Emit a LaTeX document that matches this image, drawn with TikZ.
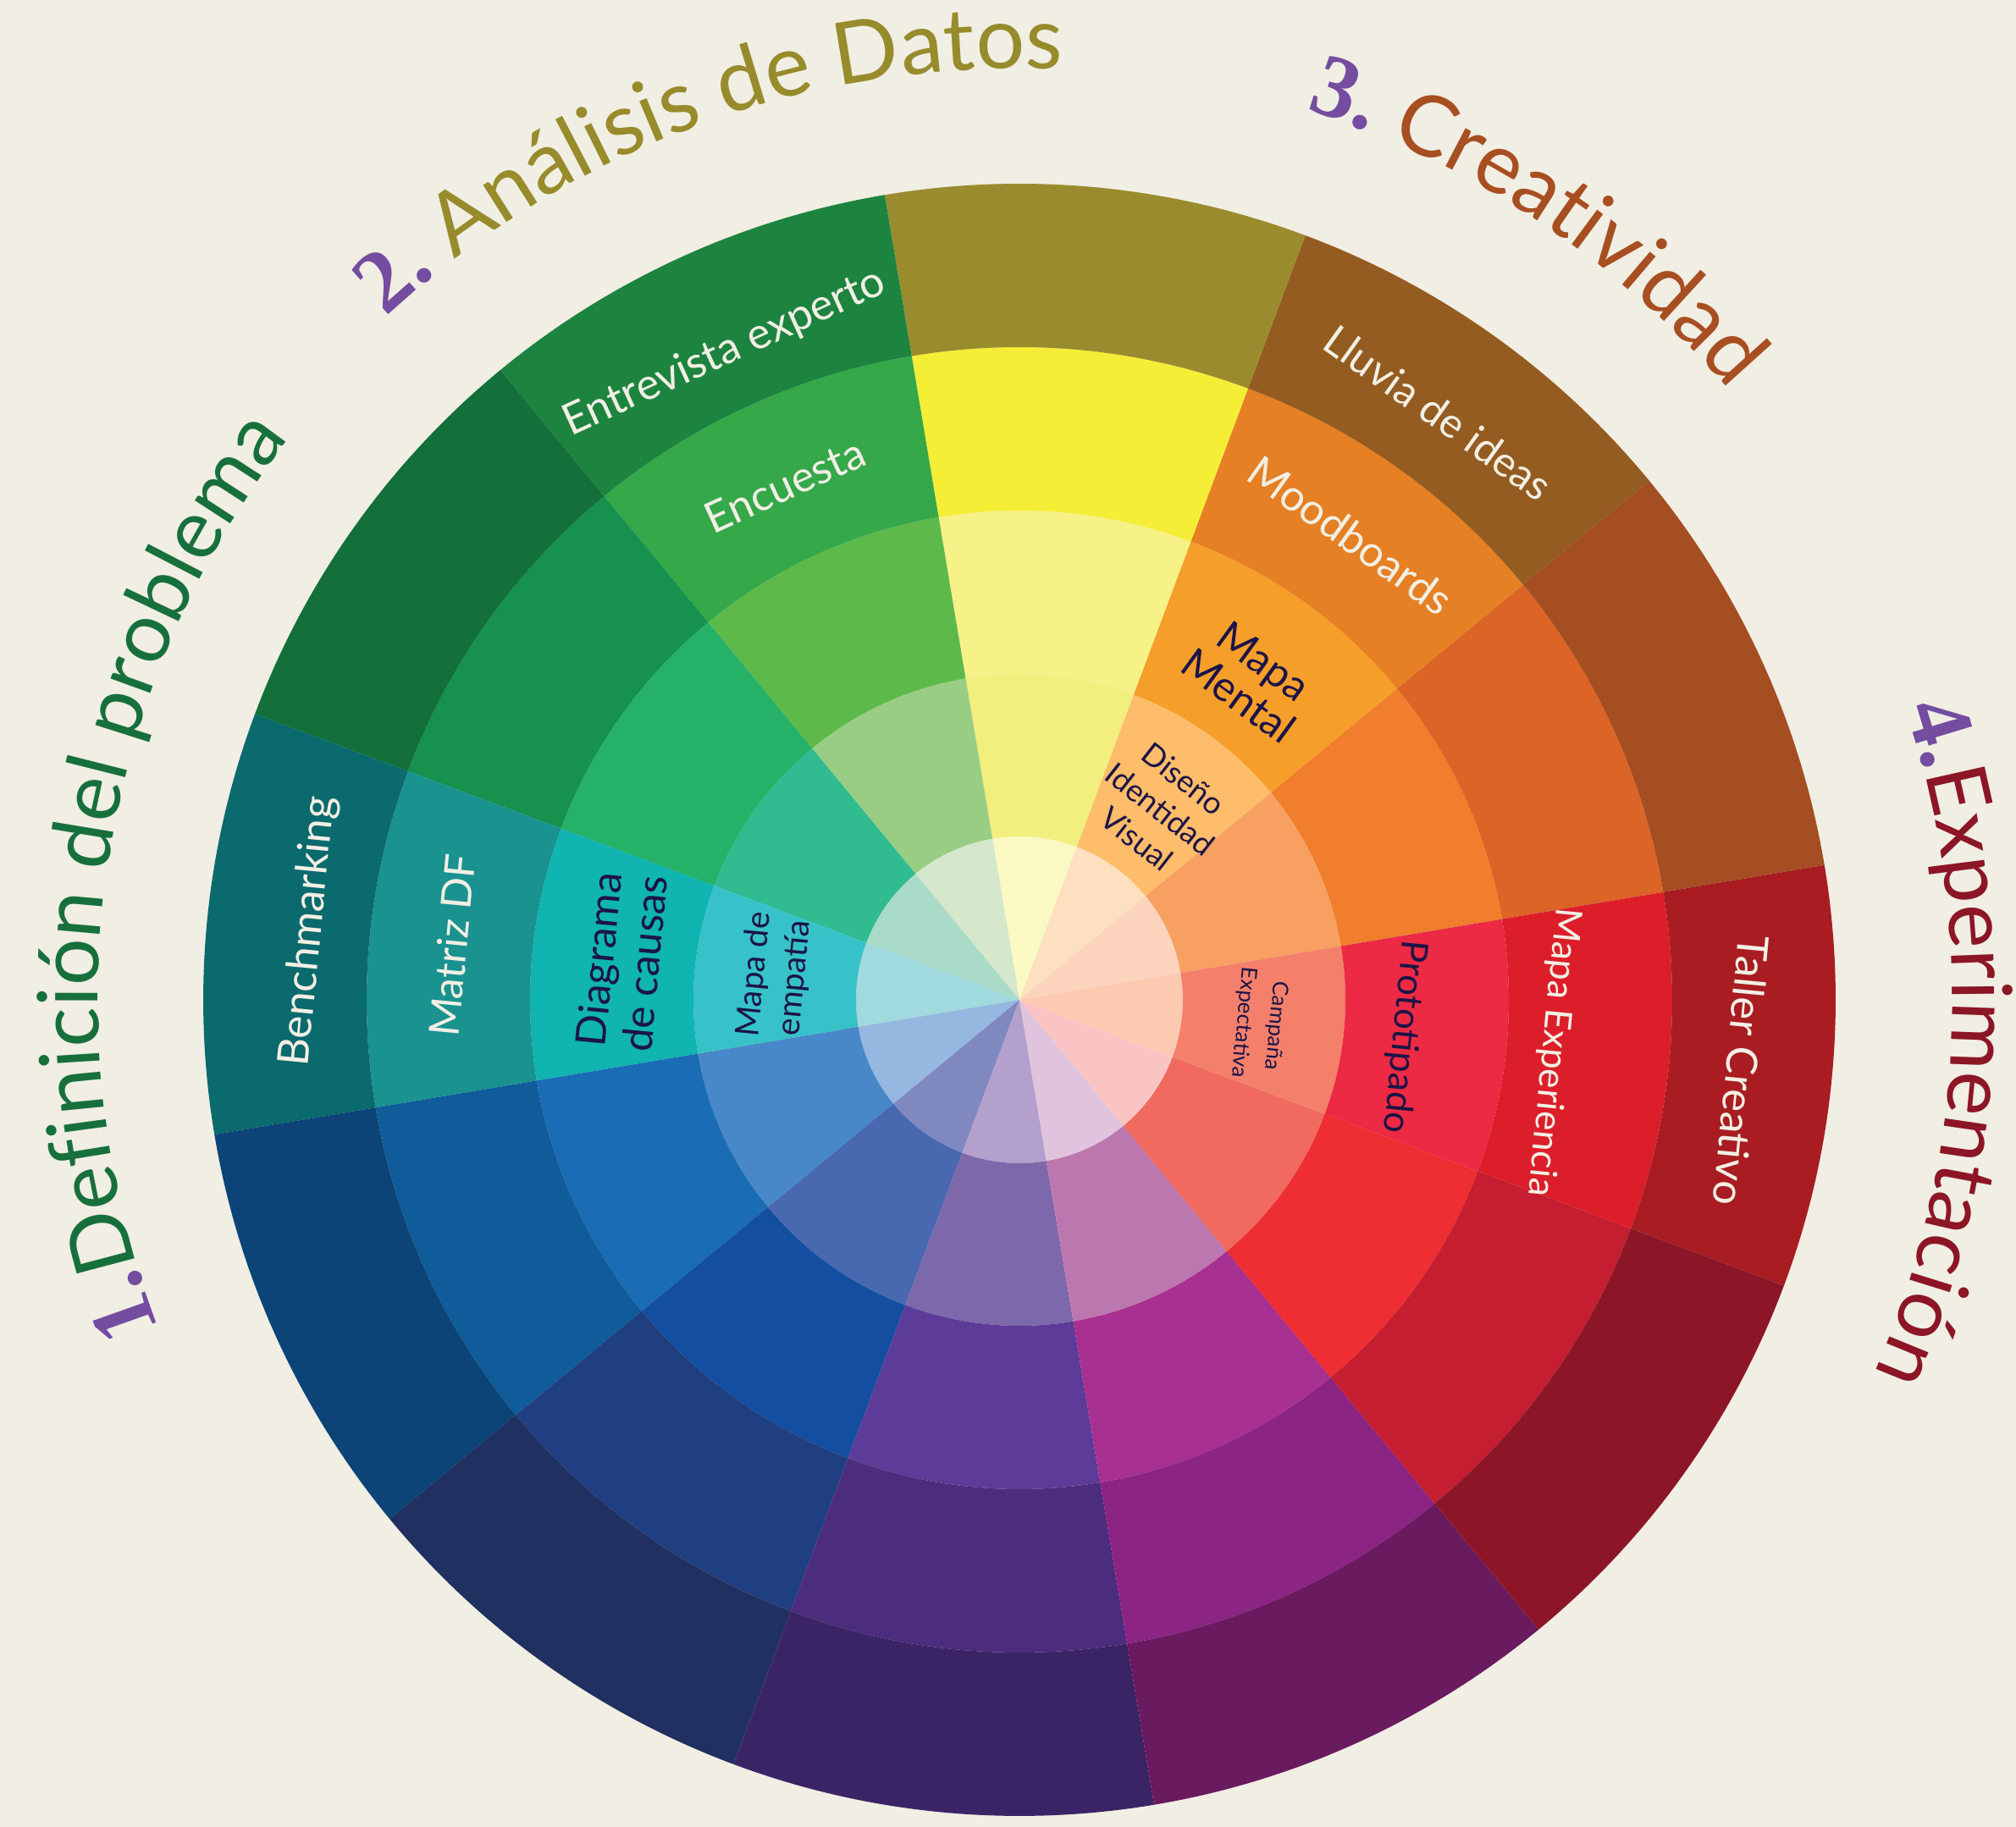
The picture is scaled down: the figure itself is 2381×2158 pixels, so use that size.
\documentclass[tikz,border=0pt]{standalone}
\usepackage{fontspec}
\setmainfont{Lato}
\newfontfamily\numfont{Liberation Serif}
\usetikzlibrary{decorations.text}
\definecolor{paper}{HTML}{F1EEE4}
\definecolor{labwhite}{HTML}{F2EFE4}
\definecolor{navy}{HTML}{1C1446}
\definecolor{numpurple}{HTML}{744CA0}
\definecolor{tone}{HTML}{17703C}
\definecolor{ttwo}{HTML}{978B2C}
\definecolor{tthree}{HTML}{A84F22}
\definecolor{tfour}{HTML}{8C1626}
\begin{document}
\begin{tikzpicture}[x=0.01cm, y=0.01cm,
  wl/.style={text=labwhite, align=center, inner sep=0pt},
  nl/.style={text=navy, align=center, inner sep=0pt}]
\useasboundingbox (0,0) rectangle (2381,2158);
\fill[paper] (0,0) rectangle (2381,2158);
\coordinate (C) at (1204,977);
\begin{scope}[shift={(C)}]
\foreach \i/\ca/\cb/\cc/\cd/\ce in {
  0/FCD4BE/F8A062/F07E2C/DC6426/A44E22,
  1/FDE0C0/FDBD6A/F69E2A/E68024/945C20,
  2/FAF9C4/F2EF7E/F6F288/F5EE36/9A8C2E,
  3/D5E8CC/9ACD84/5DBA4A/35A84A/1D8440,
  4/AADBC8/30BB90/26B168/16914E/13703A,
  5/A0DADE/36C2C8/10B4B0/1A9290/0A6A6E,
  6/96B8E0/4888C8/1A6CB4/105C9A/0C4478,
  7/8088C0/4868B0/144EA0/203F80/203060,
  8/B4A0CC/7E68AC/5C3C98/4C2C7C/3B2466,
  9/E0C4DE/BC78AE/A83090/8C2484/6A1A5E,
  10/FAC4C4/F06A60/EE2E32/C41E30/8C1628,
  11/FCCAB0/F4806C/EC2A44/DC1E2A/A81C22}{
  \pgfmathsetmacro\a{9.5+30*\i}
  \pgfmathsetmacro\b{\a+30}
  \definecolor{kone}{HTML}{\ca}
  \definecolor{ktwo}{HTML}{\cb}
  \definecolor{kthree}{HTML}{\cc}
  \definecolor{kfour}{HTML}{\cd}
  \definecolor{kfive}{HTML}{\ce}
  \fill[kone] (0,0) -- (\a:193) arc[start angle=\a, end angle=\b, radius=193] -- cycle;
  \fill[ktwo] (\a:193) -- (\a:385) arc[start angle=\a, end angle=\b, radius=385] -- (\b:193) arc[start angle=\b, end angle=\a, radius=193] -- cycle;
  \fill[kthree] (\a:385) -- (\a:578) arc[start angle=\a, end angle=\b, radius=578] -- (\b:385) arc[start angle=\b, end angle=\a, radius=385] -- cycle;
  \fill[kfour] (\a:578) -- (\a:771) arc[start angle=\a, end angle=\b, radius=771] -- (\b:578) arc[start angle=\b, end angle=\a, radius=578] -- cycle;
  \fill[kfive] (\a:771) -- (\a:964) arc[start angle=\a, end angle=\b, radius=964] -- (\b:771) arc[start angle=\b, end angle=\a, radius=771] -- cycle;
}
% labels sector F
\node[wl, rotate=84.5, font=\fontsize{14.5}{17}\selectfont] (bench) at (174.5:843) {Benchmarking};
\node[wl, rotate=84.5, font=\fontsize{14}{17}\selectfont] (matriz) at (174.5:673) {Matriz DF};
\node[nl, rotate=84.5, font=\fontsize{14}{15.5}\selectfont] (diag) at (174.5:472) {Diagrama\\de causas};
\node[nl, rotate=84.5, font=\fontsize{11}{13.5}\selectfont] (empatia) at (174.5:290) {Mapa de\\empatía};
% sector D
\node[wl, rotate=24.5, font=\fontsize{14.6}{18}\selectfont] (entrev) at (114.5:840) {Entrevista experto};
\node[wl, rotate=24.5, font=\fontsize{14.4}{18}\selectfont] (encuesta) at (114.5:668) {Encuesta};
% sector B
\node[wl, rotate=-35.5, font=\fontsize{14}{17}\selectfont] (lluvia) at (54.5:852) {Lluvia de ideas};
\node[wl, rotate=-35.5, font=\fontsize{14.4}{17}\selectfont] (mood) at (54.5:674) {Moodboards};
\node[nl, rotate=-36, font=\fontsize{14}{14.5}\selectfont] (mental) at (54.2:468) {Mapa\\Mental};
\node[nl, rotate=-38, font=\fontsize{10.4}{12.8}\selectfont] (diseno) at (53.6:280) {Diseño\\Identidad\\Visual};
% sector L
\node[nl, rotate=-95.5, font=\fontsize{7.3}{11}\selectfont] (campana) at (-5.8:285) {Campaña\\Expectativa};
\node[nl, rotate=-95.5, font=\fontsize{12.5}{15}\selectfont] (proto) at (-5.5:456) {Prototipado};
\node[wl, rotate=-95.5, font=\fontsize{12.5}{15}\selectfont] (mapexp) at (-5.6:633) {Mapa Experiencia};
\node[wl, rotate=-95.5, font=\fontsize{14.4}{17}\selectfont] (taller) at (-5.6:857) {Taller Creativo};
% titles
\path[decorate, decoration={text along path, text align=center,
  text={|\fontsize{30}{32}\selectfont\numfont\bfseries\color{numpurple}|1.|\fontsize{28}{32}\selectfont\color{tone}|Definición del problema}}]
  (231.7:1088) arc[start angle=231.7, end angle=111.7, radius=1088];
\path[decorate, decoration={text along path, text align=center,
  text={|\fontsize{30}{32}\selectfont\numfont\bfseries\color{numpurple}|2.|\fontsize{29}{32}\selectfont\color{ttwo}| Análisis de Datos}}]
  (170.1:1100) arc[start angle=170.1, end angle=50.1, radius=1100];
\path[decorate, decoration={text along path, text align=center,
  text={|\fontsize{30}{32}\selectfont\numfont\bfseries\color{numpurple}|3.|\fontsize{28.5}{32}\selectfont\color{tthree}| Creatividad}}]
  (116.4:1105) arc[start angle=116.4, end angle=-3.6, radius=1105];
\path[decorate, decoration={text along path, text align=center,
  text={|\fontsize{30}{32}\selectfont\numfont\bfseries\color{numpurple}|4.|\fontsize{28}{32}\selectfont\color{tfour}|Experimentación}}]
  (57.3:1102) arc[start angle=57.3, end angle=-62.7, radius=1102];
\end{scope}
\end{tikzpicture}
\end{document}
